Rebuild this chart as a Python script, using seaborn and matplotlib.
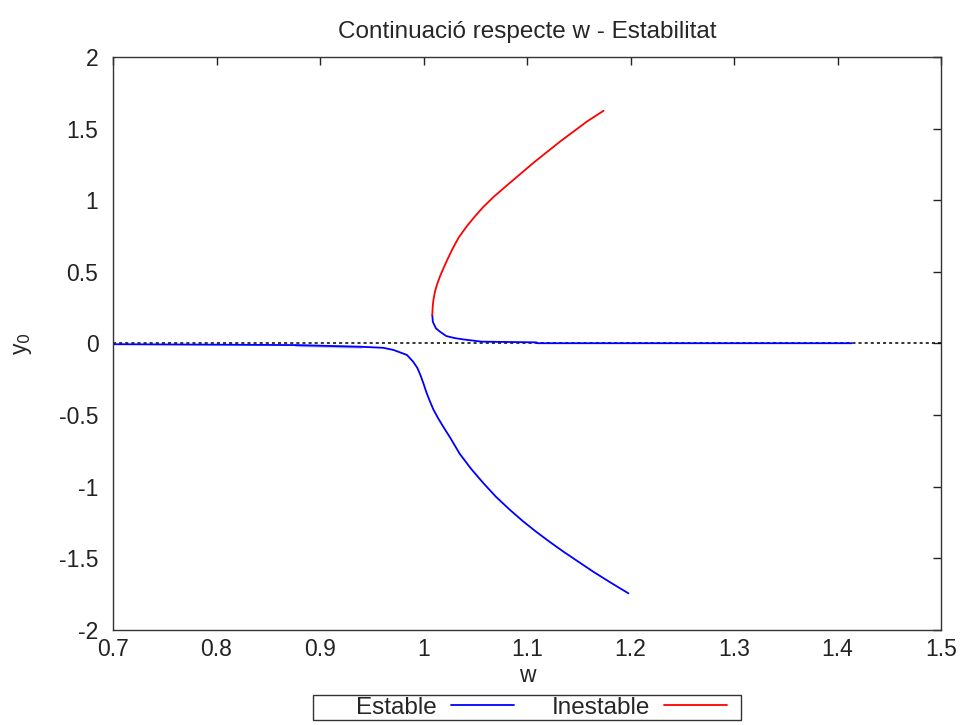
import matplotlib

matplotlib.use("Agg")

import matplotlib.pyplot as plt
import pandas as pd
import seaborn as sns
from matplotlib.patches import Rectangle

# lower stable branch (w, y0)
low_w = [0.700, 0.876, 0.876, 0.940, 0.940, 0.961, 0.971, 0.984, 0.990, 0.994,
         0.997, 1.000, 1.003, 1.006, 1.0095, 1.014, 1.019, 1.026, 1.035, 1.046,
         1.058, 1.070, 1.0836, 1.096, 1.109, 1.122, 1.135, 1.150, 1.164, 1.181, 1.198]
low_y = [-0.005, -0.005, -0.017, -0.017, -0.029, -0.030, -0.045, -0.080, -0.127, -0.170,
         -0.220, -0.280, -0.345, -0.400, -0.460, -0.520, -0.580, -0.660, -0.770, -0.875,
         -0.976, -1.070, -1.162, -1.240, -1.315, -1.385, -1.452, -1.525, -1.593, -1.670,
         -1.744]

# upper stable branch going to the right
up_w = [1.0085, 1.009, 1.012, 1.016, 1.022, 1.030, 1.038, 1.056, 1.109, 1.110, 1.414]
up_y = [0.199, 0.152, 0.106, 0.082, 0.052, 0.038, 0.029, 0.013, 0.008, 0.002, 0.002]

# unstable branch
red_w = [1.0085, 1.0088, 1.0095, 1.011, 1.013, 1.016, 1.019, 1.023, 1.028, 1.034,
         1.042, 1.050, 1.058, 1.068, 1.080, 1.093, 1.106, 1.119, 1.132, 1.145,
         1.158, 1.174]
red_y = [0.199, 0.250, 0.300, 0.360, 0.410, 0.470, 0.520, 0.585, 0.660, 0.740,
         0.820, 0.890, 0.955, 1.025, 1.100, 1.180, 1.260, 1.335, 1.410, 1.480,
         1.550, 1.625]

x_ticks = [0.7, 0.8, 0.9, 1.0, 1.1, 1.2, 1.3, 1.4, 1.5]
x_labels = ["0.7", "0.8", "0.9", "1", "1.1", "1.2", "1.3", "1.4", "1.5"]
y_ticks = [-2, -1.5, -1, -0.5, 0, 0.5, 1, 1.5, 2]
y_labels = ["-2", "-1.5", "-1", "-0.5", "0", "0.5", "1", "1.5", "2"]

sns.set_style("white")
plt.rcParams["font.family"] = ["Liberation Sans", "DejaVu Sans"]

W, H = 967, 725
fig = plt.figure(figsize=(W / 100, H / 100), dpi=100)
ax = fig.add_axes([113 / W, 95 / H, 828 / W, 573 / H])

ax.axhline(0, color="black", lw=1.1, ls=(0, (2, 2)), zorder=1)

low = pd.DataFrame({"w": low_w, "y": low_y})
up = pd.DataFrame({"w": up_w, "y": up_y})
red = pd.DataFrame({"w": red_w, "y": red_y})

sns.lineplot(data=low, x="w", y="y", sort=False, color="#0000ff", lw=1.3, ax=ax,
             label="Estable")
sns.lineplot(data=up, x="w", y="y", sort=False, color="#0000ff", lw=1.3, ax=ax)
sns.lineplot(data=red, x="w", y="y", sort=False, color="#ff0000", lw=1.3, ax=ax,
             label="Inestable")

ax.set_xlim(0.7, 1.5)
ax.set_ylim(-2, 2)
ax.set_xticks(x_ticks)
ax.set_xticklabels(x_labels)
ax.set_yticks(y_ticks)
ax.set_yticklabels(y_labels)
ax.tick_params(direction="in", length=6, width=1, top=True, right=True,
               labelsize=16.5, colors="#222222")
ax.tick_params(axis="y", pad=10.5)
ax.tick_params(axis="x", pad=6)
for s in ax.spines.values():
    s.set_color("#333333")
    s.set_linewidth(1.0)

ax.set_xlabel("w", fontsize=16.5, labelpad=2)
ax.set_ylabel("y$_0$", fontsize=16.5, labelpad=18)
ax.set_title("Continuació respecte w - Estabilitat", fontsize=17.5, pad=14)

# gnuplot-like key under the plot: box drawn separately
ax.legend_.remove()
handles, labels = ax.get_legend_handles_labels()
fig.legend(handles, labels, ncol=2, loc="center left",
           bbox_to_anchor=(356 / W, 17.5 / H), markerfirst=False, frameon=False,
           fontsize=17.5, handlelength=2.6, columnspacing=1.55, borderpad=0,
           handletextpad=0.58, borderaxespad=0)
fig.patches.append(Rectangle((313 / W, 5 / H), 428 / W, 25 / H, transform=fig.transFigure,
                             fill=False, edgecolor="#333333", lw=1.0))

fig.savefig("out.png", dpi=100)
plt.close(fig)
